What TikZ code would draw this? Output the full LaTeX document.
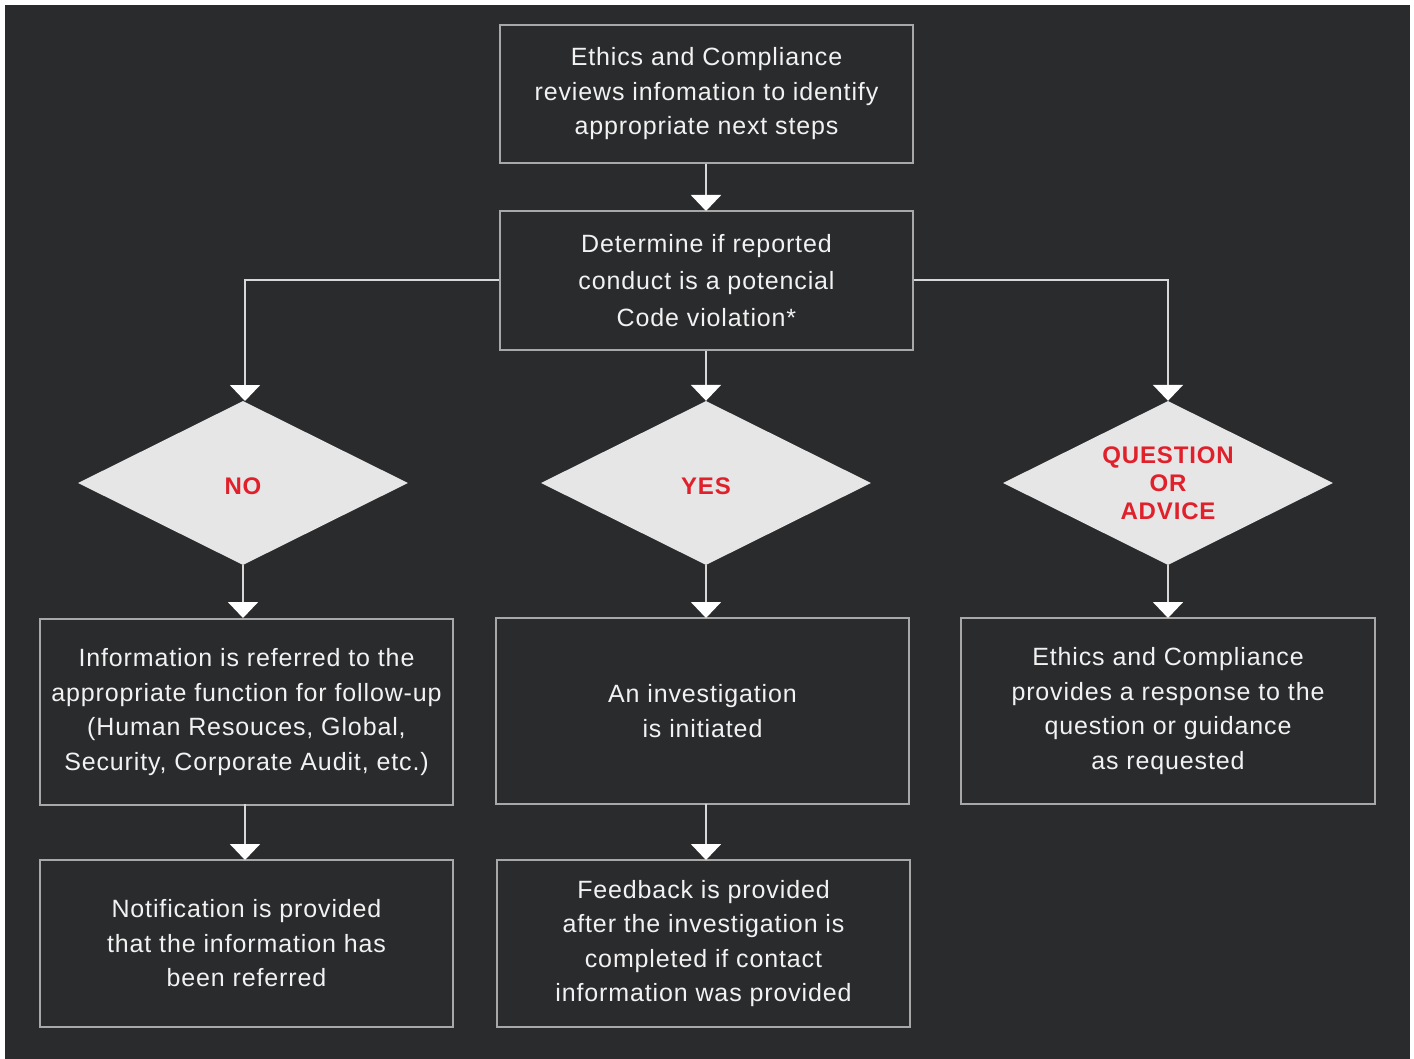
\documentclass[tikz,border=0pt]{standalone}
\usepackage{fontspec}
\setmainfont{Liberation Sans}[LetterSpace=3.5]
\usetikzlibrary{shapes.geometric,arrows.meta}
\definecolor{bg}{HTML}{2A2B2D}
\definecolor{boxline}{HTML}{A8A8A8}
\definecolor{connline}{HTML}{D8D8D8}
\definecolor{dfill}{HTML}{E6E6E6}
\definecolor{dred}{HTML}{E0202A}
\definecolor{txt}{HTML}{F2F2F2}
\newcommand{\dlow}[1]{\raisebox{-3pt}[\height][\depth]{#1}}
\tikzset{
  stepbox/.style={draw=boxline, line width=2pt, fill=bg, text=txt, align=center,
    minimum width=413pt, inner sep=0pt, font=\fontsize{25}{34.5}\selectfont},
  choice/.style={diamond, fill=dfill, draw=none, inner sep=0pt, aspect=2,
    minimum width=330pt, minimum height=164pt, text=dred, align=center,
    font=\fontsize{24}{28.5}\selectfont\bfseries},
  conn/.style={draw=connline, line width=2pt,
    -{Triangle[width=30pt,length=16pt,fill=white,color=white]}}
}
\begin{document}
\begin{tikzpicture}[x=1pt,y=-1pt]
\useasboundingbox (0,0) rectangle (1414,1059);
\fill[white] (0,0) rectangle (1414,1059);
\fill[bg] (5,5) rectangle (1410,1059);

\node[stepbox, minimum height=138pt] (b1) at (706.5,94)
  {Ethics and Compliance\\reviews infomation to identify\\appropriate next steps};
\node[stepbox, minimum height=139pt, font=\fontsize{25}{37}\selectfont] (b2) at (706.5,280.5)
  {Determine if reported\\conduct is a potencial\\Code violation*};

\node[choice] (dno) at (243,483) {\dlow{NO}};
\node[choice] (dyes) at (706,483) {\dlow{YES}};
\node[choice] (dq) at (1168,483) {\dlow{\begin{tabular}{@{}c@{}}QUESTION\\[-0.3pt]OR\\[-0.3pt]ADVICE\end{tabular}}};

\node[stepbox, minimum height=186pt] (rno) at (246.5,712)
  {Information is referred to the\\appropriate function for follow-up\\(Human Resouces, Global,\\Security, Corporate Audit, etc.)};
\node[stepbox, minimum height=186pt] (ryes) at (702.5,711)
  {An investigation\\is initiated};
\node[stepbox, minimum height=186pt, minimum width=414pt] (rq) at (1168,711)
  {Ethics and Compliance\\provides a response to the\\question or guidance\\as requested};

\node[stepbox, minimum height=167pt] (nno) at (246.5,943.5)
  {Notification is provided\\that the information has\\been referred};
\node[stepbox, minimum height=167pt] (nyes) at (703.5,943.5)
  {Feedback is provided\\after the investigation is\\completed if contact\\information was provided};

\draw[conn] (b1.south -| 706,0) -- (706,211);
\draw[conn] (b2.south -| 706,0) -- (dyes.north);
\draw[conn] (b2.west) -| (245,401);
\draw[conn] (b2.east) -| (dq.north);
\draw[conn] (dno.south) -- (243,618);
\draw[conn] (dyes.south) -- (706,618);
\draw[conn] (dq.south) -- (1168,618);
\draw[conn] (245,804) -- (245,860);
\draw[conn] (706,804) -- (706,860);
\end{tikzpicture}
\end{document}
